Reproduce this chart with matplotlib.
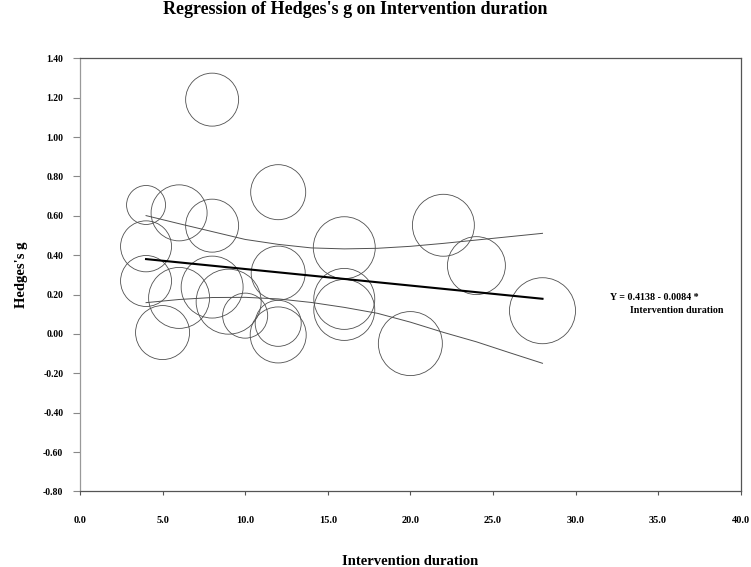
import numpy as np
import matplotlib
matplotlib.use("Agg")
import matplotlib.pyplot as plt

plt.rcParams['font.family'] = ['Liberation Serif', 'DejaVu Serif']
plt.rcParams['font.weight'] = 'bold'

# study level data (duration in weeks, Hedges's g, relative weight)
duration = [8, 4, 6, 8, 12, 4, 16, 22, 24, 28, 4, 6, 8, 9, 10, 12, 12, 12, 5, 16, 16, 20]
hedges_g = [1.19, 0.655, 0.615, 0.55, 0.72, 0.445, 0.438, 0.552, 0.347, 0.118, 0.269,
            0.183, 0.238, 0.164, 0.093, 0.309, 0.054, -0.005, 0.007, 0.178, 0.122, -0.049]
weight = [28.1, 15.2, 31.4, 28.1, 30.3, 26.0, 38.4, 38.4, 33.6, 43.6, 26.0,
          37.2, 38.4, 42.3, 20.3, 29.2, 21.2, 31.4, 29.2, 37.2, 37.2, 41.0]

# fitted line  Y = 0.4138 - 0.0084 * duration
intercept = 0.4138
slope = -0.0084
fit_x = [4, 28]

# 95% confidence band
band_x = [4, 6, 8, 10, 12, 14, 16, 18, 20, 22, 24, 26, 28]
band_upper = [0.601, 0.56, 0.52, 0.48, 0.455, 0.437, 0.432, 0.435, 0.445, 0.46, 0.477, 0.494, 0.511]
band_lower = [0.159, 0.175, 0.185, 0.186, 0.178, 0.160, 0.135, 0.105, 0.06, 0.008, -0.04, -0.095, -0.149]

xticks = np.arange(0, 45, 5)
yticks = np.arange(-0.8, 1.41, 0.2)

fig = plt.figure(figsize=(7.51, 5.67), dpi=100)
ax = fig.add_axes([0.1065, 0.1332, 0.8798, 0.764])

ax.scatter(duration, hedges_g, s=np.array(weight) * 51.8, facecolors='none',
           edgecolors='#505050', linewidths=0.6, zorder=3)

fx = np.array(fit_x)
ax.plot(fx, intercept + slope * fx, color='black', lw=1.5, zorder=4)
ax.plot(band_x, band_upper, color='#505050', lw=0.7, zorder=2)
ax.plot(band_x, band_lower, color='#505050', lw=0.7, zorder=2)

ax.text(32.1, 0.183, "Y = 0.4138 - 0.0084 *", fontsize=7.2, fontweight='bold',
        ha='left', va='center')
ax.text(33.3, 0.117, "Intervention duration", fontsize=7.2, fontweight='bold',
        ha='left', va='center')

ax.set_xlim(0, 40)
ax.set_ylim(-0.8, 1.4)
ax.set_xticks(xticks)
ax.set_xticklabels([f"{v:.1f}" for v in xticks], fontsize=7.5, fontweight='bold')
ax.set_yticks(yticks)
ax.set_yticklabels([f"{round(v, 2) + 0.0:.2f}" for v in yticks], fontsize=7, fontweight='bold')
ax.tick_params(axis='x', direction='out', length=3, pad=14.5, color='#555555')
ax.tick_params(axis='y', direction='out', length=5, pad=7, color='#888888')

ax.spines['left'].set_color('#999999')
for side in ['top', 'right', 'bottom']:
    ax.spines[side].set_color('#555555')
for sp in ax.spines.values():
    sp.set_linewidth(0.9)

ax.set_xlabel("Intervention duration", fontsize=10.5, fontweight='bold', labelpad=22)
ax.set_ylabel("Hedges's g", fontsize=10.5, fontweight='bold', labelpad=11)

fig.text(0.473, 1 - 13.5 / 567, "Regression of Hedges's g on Intervention duration",
         fontsize=13, fontweight='bold', ha='center', va='baseline')

fig.savefig("out.png", dpi=100)
